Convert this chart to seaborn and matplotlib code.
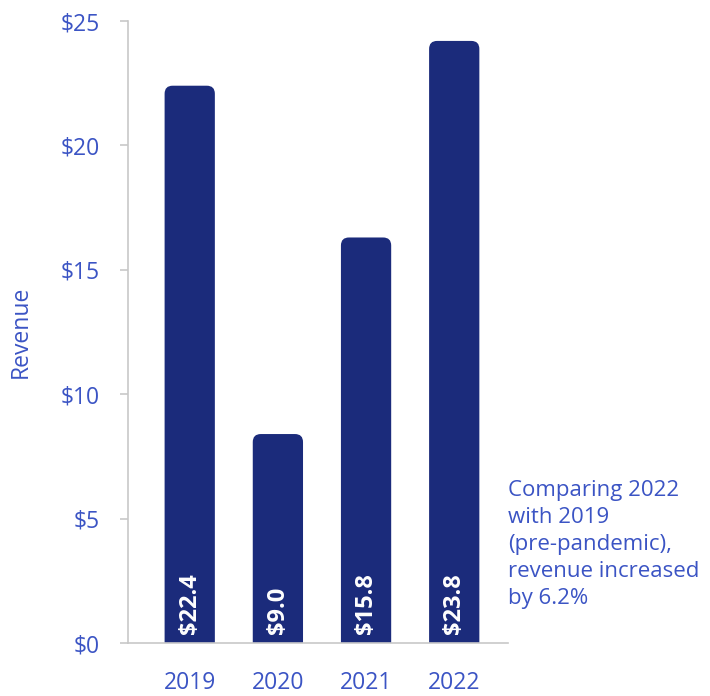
import matplotlib
matplotlib.use("Agg")
import matplotlib.pyplot as plt
import seaborn as sns
from matplotlib.patches import FancyBboxPatch

# data
years = ["2019", "2020", "2021", "2022"]
revenue = [22.4, 8.4, 16.3, 24.2]
bar_labels = ["$22.4", "$9.0", "$15.8", "$23.8"]
y_ticks = [0, 5, 10, 15, 20, 25]
y_tick_labels = ["$0", "$5", "$10", "$15", "$20", "$25"]
note = "Comparing 2022\nwith 2019\n(pre-pandemic),\nrevenue increased\nby 6.2%"

bar_color = "#1b2b7b"
text_color = "#3b54c4"
axis_color = "#c8c8c8"

sns.set_style("white")
plt.rcParams['font.family'] = ['Open Sans', 'DejaVu Sans']

fig = plt.figure(figsize=(7.1, 6.96), dpi=100)
ax = fig.add_axes([0.1803, 0.0761, 0.5352, 0.8937])
sns.barplot(x=years, y=revenue, color=bar_color, width=0.57, saturation=1, ax=ax)
ax.set_xlim(-0.70, 3.61)
ax.set_ylim(0, 25)

# swap plain bars for bars with rounded tops
bbox = ax.get_window_extent()
x_per_px = (3.61 + 0.70) / bbox.width
y_per_px = 25 / bbox.height
aspect = y_per_px / x_per_px
r = 8 * x_per_px
for p in list(ax.patches):
    x, w, h = p.get_x(), p.get_width(), p.get_height()
    p.remove()
    ax.add_patch(FancyBboxPatch((x, -1), w, h + 1,
                                boxstyle=f"round,pad=0,rounding_size={r}",
                                mutation_aspect=aspect, fc=bar_color, ec="none"))

# value labels inside the bars
for i, lab in enumerate(bar_labels):
    ax.text(i, 0.35, lab, rotation=90, ha='center', va='bottom',
            color='white', fontweight='bold', fontsize=17)

ax.set_yticks(y_ticks)
ax.set_yticklabels(y_tick_labels)
ax.tick_params(axis='y', length=6, width=1.2, color=axis_color, pad=14,
               labelsize=16.5, labelcolor=text_color, left=True)
ax.tick_params(axis='x', length=0, pad=20, labelsize=16.5, labelcolor=text_color)

sns.despine(ax=ax, top=True, right=True)
for s in ['left', 'bottom']:
    ax.spines[s].set_color(axis_color)
    ax.spines[s].set_linewidth(1.2)

ax.set_xlabel('')
ax.set_ylabel('Revenue', fontsize=16.5, color=text_color)
ax.yaxis.set_label_coords(-0.25, 0.5)

fig.text(0.7155, 1 - 480 / 696, note, va='top', ha='left', fontsize=16,
         color=text_color, linespacing=1.38)

fig.savefig("out.png", dpi=100)
